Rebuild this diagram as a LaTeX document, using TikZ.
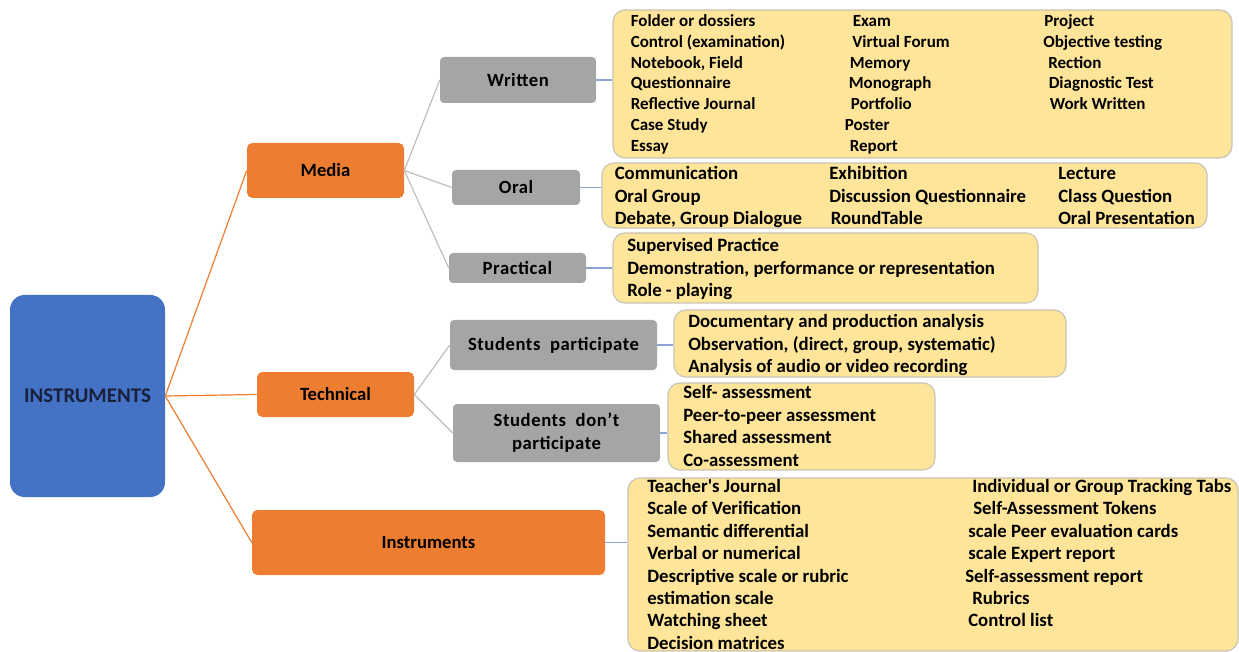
\documentclass[tikz,border=0pt]{standalone}
\usepackage{fontspec}
\setmainfont{Carlito}
\usepackage{tikz}
\usetikzlibrary{positioning}

\definecolor{rootblue}{RGB}{68,114,196}
\definecolor{roottext}{RGB}{24,32,60}
\definecolor{branchorange}{RGB}{237,125,49}
\definecolor{subgray}{RGB}{165,165,165}
\definecolor{listyellow}{RGB}{255,229,153}
\definecolor{listedge}{RGB}{200,196,182}
\definecolor{graylink}{RGB}{190,190,190}
\definecolor{bluelink}{RGB}{140,165,215}

\tikzset{
  rootbox/.style={fill=rootblue, rounded corners=11pt, inner sep=0pt, text=roottext,
    font=\bfseries\fontsize{15.7}{18}\selectfont, minimum width=116.25pt, minimum height=151.5pt},
  branchbox/.style={fill=branchorange, rounded corners=4pt, inner sep=0pt,
    font=\bfseries\fontsize{14}{17}\selectfont},
  subbox/.style={fill=subgray, rounded corners=3pt, inner sep=0pt, align=center,
    font=\bfseries\fontsize{14}{17.25}\selectfont\addfontfeatures{LetterSpace=3}},
  listbox/.style={fill=listyellow, draw=listedge, line width=0.9pt, rounded corners=9pt, inner sep=0pt},
  item/.style={anchor=base west, inner sep=0pt, font=\bfseries\fontsize{14.1}{16}\selectfont},
  smallitem/.style={item, font=\bfseries\fontsize{12.75}{15}\selectfont},
  rootlink/.style={draw=branchorange, line width=0.9pt},
  sublink/.style={draw=graylink, line width=0.9pt},
  listlink/.style={draw=bluelink, line width=0.9pt}
}

\begin{document}
\begin{tikzpicture}[x=0.75pt,y=0.75pt,yscale=-1,xscale=1]
\useasboundingbox (0,0) rectangle (1239,652);

%Root
\node [rootbox] (root) at (87.5,396) {INSTRUMENTS};

%Branches
\node [branchbox, minimum width=117.75pt, minimum height=41.25pt] (media) at (325.5,170.5) {Media};
\node [branchbox, minimum width=117.75pt, minimum height=33.75pt] (technical) at (335.5,394.5) {Technical};
\node [branchbox, minimum width=264.75pt, minimum height=48.75pt] (instr) at (428.5,542.5) {Instruments};

%Sub boxes
\node [subbox, minimum width=117pt, minimum height=34.5pt] (written) at (518,80) {Written};
\node [subbox, minimum width=96pt, minimum height=26.25pt] (oral) at (516,187.5) {Oral};
\node [subbox, minimum width=102.75pt, minimum height=22.5pt] (practical) at (517.5,268) {Practical};
\node [subbox, minimum width=155.25pt, minimum height=37.5pt] (partic) at (553.5,345) {Students\ \ participate};
\node [subbox, minimum width=155.25pt, minimum height=43.5pt] (nopartic) at (556.5,433) {Students\ \ don’t\\participate};

%List boxes
\node [listbox, minimum width=464.25pt, minimum height=111pt] (wlist) at (922.5,84) {};
\node [listbox, minimum width=453.75pt, minimum height=48.75pt] (olist) at (904.5,195.5) {};
\node [listbox, minimum width=318.75pt, minimum height=52.5pt] (plist) at (825.5,268) {};
\node [listbox, minimum width=294pt, minimum height=50.25pt] (splist) at (870,343.5) {};
\node [listbox, minimum width=200.25pt, minimum height=65.25pt] (nplist) at (801.5,426.5) {};
\node [listbox, minimum width=457.5pt, minimum height=129.75pt] (ilist) at (933,564.5) {};

%Connectors
\draw [rootlink] (root.east) -- (media.west);
\draw [rootlink] (root.east) -- (technical.west);
\draw [rootlink] (root.east) -- (instr.west);
\draw [sublink] (media.east) -- (written.west);
\draw [sublink] (media.east) -- (oral.west);
\draw [sublink] (media.east) -- (practical.west);
\draw [sublink] (technical.east) -- (partic.west);
\draw [sublink] (technical.east) -- (nopartic.west);
\draw [listlink] (written.east) -- (written.east -| wlist.west);
\draw [listlink] (oral.east) -- (oral.east -| olist.west);
\draw [listlink] (practical.east) -- (practical.east -| plist.west);
\draw [listlink] (partic.east) -- (partic.east -| splist.west);
\draw [listlink] (nopartic.east) -- (nopartic.east -| nplist.west);
\draw [listlink] (instr.east) -- (instr.east -| ilist.west);

% Text Node
\draw (630.5,26.5) node [smallitem] (wa1) {Folder or dossiers};
\draw (630.5,47.3) node [smallitem] (wa2) {Control (examination)};
\draw (630.5,68.1) node [smallitem] (wa3) {Notebook, Field};
\draw (630.5,88.9) node [smallitem] (wa4) {Questionnaire};
\draw (630.5,109.7) node [smallitem] (wa5) {Reflective Journal};
\draw (630.5,130.5) node [smallitem] (wa6) {Case Study};
\draw (630.5,151.3) node [smallitem] (wa7) {Essay};
% Text Node
\draw (852.5,26.5) node [smallitem] (wb1) {Exam};
\draw (852,47.3) node [smallitem] (wb2) {Virtual Forum};
\draw (849.5,68.1) node [smallitem] (wb3) {Memory};
\draw (848.5,88.9) node [smallitem] (wb4) {Monograph};
\draw (850.5,109.7) node [smallitem] (wb5) {Portfolio};
\draw (844.5,130.5) node [smallitem] (wb6) {Poster};
\draw (849.5,151.3) node [smallitem] (wb7) {Report};
% Text Node
\draw (1044,26.5) node [smallitem] (wc1) {Project};
\draw (1043,47.3) node [smallitem] (wc2) {Objective testing};
\draw (1048,68.1) node [smallitem] (wc3) {Rection};
\draw (1048.5,88.9) node [smallitem] (wc4) {Diagnostic Test};
\draw (1049.5,109.7) node [smallitem] (wc5) {Work Written};

% Text Node
\draw (614.5,180) node [item] (oa1) {Communication};
\draw (614.5,202.5) node [item] (oa2) {Oral Group};
\draw (614.5,225) node [item] (oa3) {Debate, Group Dialogue};
\draw (829,180) node [item] (ob1) {Exhibition};
\draw (829,202.5) node [item] (ob2) {Discussion Questionnaire};
\draw (830.5,225) node [item] (ob3) {RoundTable};
\draw (1058,180) node [item] (oc1) {Lecture};
\draw (1058,202.5) node [item] (oc2) {Class Question};
\draw (1058,225) node [item] (oc3) {Oral Presentation};

% Text Node
\draw (627,252) node [item] (pa1) {Supervised Practice};
\draw (627,274.5) node [item] (pa2) {Demonstration, performance or representation};
\draw (627,297) node [item] (pa3) {Role - playing};

% Text Node
\draw (688,327.5) node [item] (sa1) {Documentary and production analysis};
\draw (688,350) node [item] (sa2) {Observation, (direct, group, systematic)};
\draw (688,372.5) node [item] (sa3) {Analysis of audio or video recording};

% Text Node
\draw (683,398.5) node [item] (da1) {Self- assessment};
\draw (683,421) node [item] (da2) {Peer-to-peer assessment};
\draw (683,443.5) node [item] (da3) {Shared assessment};
\draw (683,466.5) node [item] (da4) {Co-assessment};

% Text Node
\draw (647,492.5) node [item] (ia1) {Teacher\textquotesingle s Journal};
\draw (647,514.9) node [item] (ia2) {Scale of Verification};
\draw (647,537.3) node [item] (ia3) {Semantic differential};
\draw (647,559.7) node [item] (ia4) {Verbal or numerical};
\draw (647,582.1) node [item] (ia5) {Descriptive scale or rubric};
\draw (647,604.5) node [item] (ia6) {estimation scale};
\draw (647,626.9) node [item] (ia7) {Watching sheet};
\draw (647,649.3) node [item] (ia8) {Decision matrices};
% Text Node
\draw (972,492.5) node [item] (ib1) {Individual or Group Tracking Tabs};
\draw (973,514.9) node [item] (ib2) {Self-Assessment Tokens};
\draw (968,537.3) node [item] (ib3) {scale Peer evaluation cards};
\draw (968,559.7) node [item] (ib4) {scale Expert report};
\draw (965,582.1) node [item] (ib5) {Self-assessment report};
\draw (972,604.5) node [item] (ib6) {Rubrics};
\draw (968,626.9) node [item] (ib7) {Control list};

\end{tikzpicture}
\end{document}
